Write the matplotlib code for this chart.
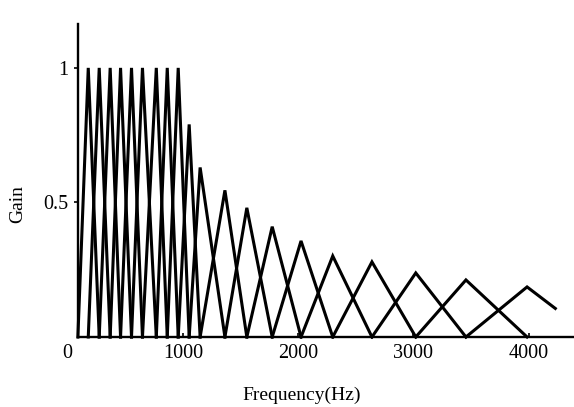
import numpy as np
import matplotlib
matplotlib.use('Agg')
import matplotlib.pyplot as plt

plt.rcParams['font.family'] = ['Liberation Serif', 'DejaVu Serif']

# filter band edges in Hz (left foot of first filter, centres, right foot of last)
edges = [90, 180, 275, 370, 460, 555, 650, 770, 865, 960,
         1055, 1150, 1365, 1555, 1775, 2025, 2300, 2640, 3020, 3455, 3985, 4555]
# peak gain of each triangular filter
peaks = [1, 1, 1, 1, 1, 1, 1, 1, 1,
         0.79, 0.63, 0.545, 0.48, 0.41, 0.357, 0.301, 0.279, 0.238, 0.212, 0.186]
f_max = 4230  # last filter is cut off here
x_ticks = [0, 1000, 2000, 3000, 4000]
y_ticks = [0.5, 1]

fig = plt.figure(figsize=(5.74, 4.07), dpi=100)
ax = fig.add_axes([0.1176, 0.172, 0.8824, 0.769])

for i, h in enumerate(peaks):
    fx = np.array([edges[i], edges[i + 1], edges[i + 2]], dtype=float)
    fy = np.array([0, h, 0], dtype=float)
    if fx[-1] > f_max:
        keep = fx < f_max
        fy = np.append(fy[keep], np.interp(f_max, fx, fy))
        fx = np.append(fx[keep], f_max)
    ax.plot(fx, fy, color='black', lw=2.2, solid_joinstyle='miter', clip_on=False)

ax.set_xlim(0, 4392)
ax.set_ylim(0, 1.163)

for s in ['top', 'right']:
    ax.spines[s].set_visible(False)
ax.spines['left'].set_position(('data', edges[0]))
ax.spines['bottom'].set_bounds(edges[0], 4392)
for s in ['left', 'bottom']:
    ax.spines[s].set_linewidth(1.7)

ax.set_xticks(x_ticks)
ax.set_xticklabels([str(t) for t in x_ticks])
ax.set_yticks(y_ticks)
ax.set_yticklabels(['0.5', '1'])
ax.tick_params(axis='x', direction='in', length=3, width=1.2, pad=5, labelsize=14.5)
ax.tick_params(axis='y', direction='out', length=3, width=1.2, pad=4, labelsize=14.5)
ax.xaxis.get_major_ticks()[0].tick1line.set_visible(False)

fig.text(18 / 574, 1 - 204 / 407, 'Gain', rotation=90, ha='center', va='center', fontsize=14)
fig.text(302 / 574, 1 - 395 / 407, 'Frequency(Hz)', ha='center', va='center', fontsize=14)

fig.savefig('out.png', dpi=100)
